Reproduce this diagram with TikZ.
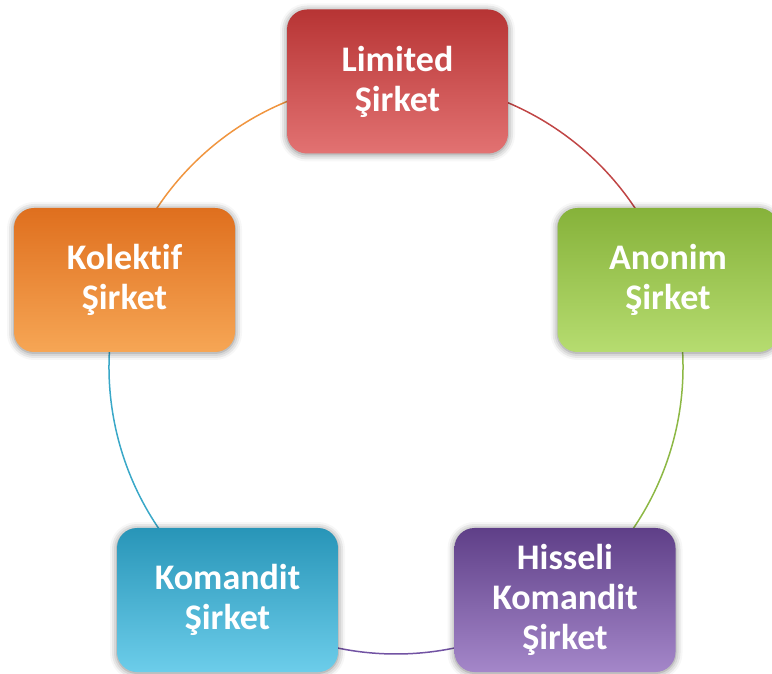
\documentclass[tikz,border=0pt]{standalone}
\usepackage{fontspec}
\setmainfont{Carlito}[Ligatures={NoCommon,NoRare,NoContextual}]
\usetikzlibrary{shadows.blur}
\definecolor{redtop}{HTML}{B73434}
\definecolor{redbot}{HTML}{E27272}
\definecolor{redline}{HTML}{C04545}
\definecolor{greentop}{HTML}{86B23A}
\definecolor{greenbot}{HTML}{B6DC70}
\definecolor{greenline}{HTML}{8DB845}
\definecolor{purptop}{HTML}{5F3F88}
\definecolor{purpbot}{HTML}{A487C9}
\definecolor{purpline}{HTML}{7253A3}
\definecolor{bluetop}{HTML}{2895B8}
\definecolor{bluebot}{HTML}{6CCDEA}
\definecolor{blueline}{HTML}{3AA8C8}
\definecolor{orgtop}{HTML}{DF6F1E}
\definecolor{orgbot}{HTML}{F6A655}
\definecolor{orgline}{HTML}{F0953F}
\tikzset{
  box/.style={rounded corners=20pt, minimum width=221pt, minimum height=144pt,
    text=white, font=\fontsize{36}{40}\selectfont\bfseries, align=center, inner sep=0pt,
    blur shadow={shadow xshift=0pt, shadow yshift=-1pt, shadow blur radius=7pt, shadow opacity=50}},
  ring/.style={line width=1.5pt}
}
\begin{document}
\begin{tikzpicture}[x=1pt,y=1pt]
\useasboundingbox (0,0) rectangle (772,673);
\clip (0,0) rectangle (772,673);
\coordinate (ctr) at (396,306);
\draw[ring, draw=redline] (ctr) ++(90:287) arc[start angle=90, end angle=18, radius=287];
\draw[ring, draw=greenline] (ctr) ++(18:287) arc[start angle=18, end angle=-54, radius=287];
\draw[ring, draw=purpline] (ctr) ++(-54:287) arc[start angle=-54, end angle=-126, radius=287];
\draw[ring, draw=blueline] (ctr) ++(-126:287) arc[start angle=-126, end angle=-198, radius=287];
\draw[ring, draw=orgline] (ctr) ++(162:287) arc[start angle=162, end angle=90, radius=287];
\node[box, top color=redtop, bottom color=redbot] (limited) at (397.5,591.5) {Limited\\Şirket};
\node[box, top color=greentop, bottom color=greenbot] (anonim) at (668,393) {Anonim\\Şirket};
\node[box, top color=purptop, bottom color=purpbot] (hisseli) at (565,73) {Hisseli\\Komandit\\Şirket};
\node[box, top color=bluetop, bottom color=bluebot] (komandit) at (227.5,73) {Komandit\\Şirket};
\node[box, top color=orgtop, bottom color=orgbot] (kolektif) at (124.5,393) {Kolekt\kern0pt if\\Şirket};
\end{tikzpicture}
\end{document}
